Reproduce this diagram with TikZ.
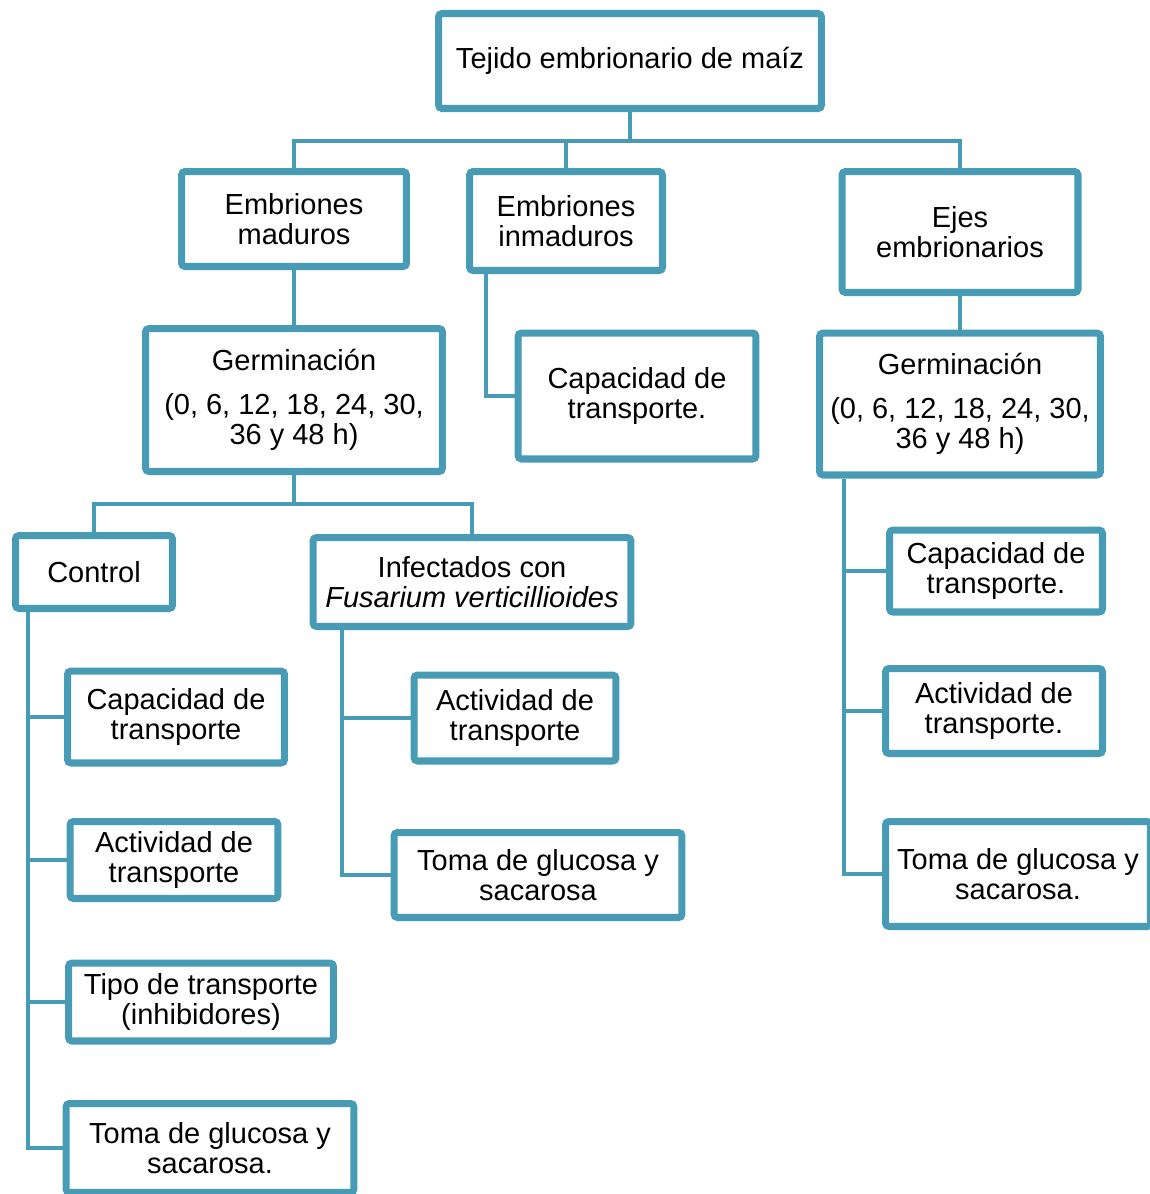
\documentclass[tikz,border=0pt]{standalone}
\usepackage{fontspec}
\setmainfont{Liberation Sans}
\usepackage{xcolor}
\usepackage{tikz}
\usetikzlibrary{positioning, calc, shadows}
\definecolor{boxline}{RGB}{72, 155, 180}

\begin{document}
\begin{tikzpicture}[x=0.02cm, y=-0.02cm,
    box/.style={draw=boxline, line width=4pt, fill=white, rounded corners=2pt,
        align=center, inner sep=0pt,
        font=\fontsize{16.5}{17.2}\selectfont,
        drop shadow={shadow xshift=1.5pt, shadow yshift=-1.5pt, opacity=0.3, fill=black}},
    link/.style={draw=boxline, line width=2.3pt}]
    \useasboundingbox (0,0) rectangle (1150,1194);

    % Top level
    \node[box, minimum width=7.66cm, minimum height=1.90cm] (tejido) at (630,61) {Tejido embrionario de maíz};

    % Second level
    \node[box, minimum width=4.50cm, minimum height=1.90cm] (madur) at (294,219) {Embriones\\maduros};
    \node[box, minimum width=3.86cm, minimum height=1.98cm] (inmad) at (566,221) {Embriones\\inmaduros};
    \node[box, minimum width=4.72cm, minimum height=2.42cm] (ejes) at (960,232) {Ejes\\embrionarios};

    % Third level
    \node[box, minimum width=5.94cm, minimum height=2.86cm] (germl) at (294,400) {Germinación\\[8pt](0, 6, 12, 18, 24, 30,\\36 y 48 h)};
    \node[box, minimum width=4.76cm, minimum height=2.52cm] (capm) at (637,396) {Capacidad de\\transporte.};
    \node[box, minimum width=5.62cm, minimum height=2.84cm] (germr) at (960,404) {Germinación\\[8pt](0, 6, 12, 18, 24, 30,\\36 y 48 h)};

    % Control / infectados
    \node[box, minimum width=3.14cm, minimum height=1.46cm] (ctrl) at (94,572) {Control};
    \node[box, minimum width=6.36cm, minimum height=1.78cm] (infect) at (472,582) {Infectados con\\\textit{Fusarium verticillioides}};

    % Control branch
    \node[box, minimum width=4.34cm, minimum height=1.84cm] (capl) at (176,717) {Capacidad de\\transporte};
    \node[box, minimum width=4.16cm, minimum height=1.54cm] (actl) at (174,860) {Actividad de\\transporte};
    \node[box, minimum width=5.30cm, minimum height=1.56cm] (tipo) at (201,1002) {Tipo de transporte\\(inhibidores)};
    \node[box, minimum width=5.76cm, minimum height=1.78cm] (tomal) at (210,1148) {Toma de glucosa y\\sacarosa.};

    % Infectados branch
    \node[box, minimum width=4.04cm, minimum height=1.72cm] (actm) at (515,718) {Actividad de\\transporte};
    \node[box, minimum width=5.76cm, minimum height=1.70cm] (tomam) at (538,875) {Toma de glucosa y\\sacarosa};

    % Ejes branch
    \node[box, minimum width=4.26cm, minimum height=1.64cm] (capr) at (996,571) {Capacidad de\\transporte.};
    \node[box, minimum width=4.34cm, minimum height=1.70cm] (actr) at (994,711) {Actividad de\\transporte.};
    \node[box, minimum width=5.30cm, minimum height=2.10cm] (tomar) at (1018,874) {Toma de glucosa y\\sacarosa.};

    % Connectors
    \coordinate (bus) at (630,141);
    \draw[link] (tejido.south) -- (bus);
    \draw[link] (madur.north) |- (bus) -| (ejes.north);
    \draw[link] (bus) -| (inmad.north);
    \draw[link] (madur.south) -- (germl.north);
    \draw[link] (ejes.south) -- (germr.north);
    \draw[link] ($(inmad.south west)+(20,0)$) |- (capm.west);

    \coordinate (gbus) at (294,504);
    \draw[link] (germl.south) -- (gbus);
    \draw[link] (ctrl.north) |- (gbus) -| (infect.north);

    \coordinate (ctrltrunk) at ($(ctrl.south west)+(16,0)$);
    \draw[link] (ctrltrunk) |- (tomal.west);
    \foreach \n in {capl, actl, tipo}
        \draw[link] (\n.west) -- (\n.west -| ctrltrunk);

    \coordinate (inftrunk) at ($(infect.south west)+(32,0)$);
    \draw[link] (inftrunk) |- (tomam.west);
    \draw[link] (actm.west) -- (actm.west -| inftrunk);

    \coordinate (germtrunk) at ($(germr.south west)+(28,0)$);
    \draw[link] (germtrunk) |- (tomar.west);
    \foreach \n in {capr, actr}
        \draw[link] (\n.west) -- (\n.west -| germtrunk);
\end{tikzpicture}
\end{document}
